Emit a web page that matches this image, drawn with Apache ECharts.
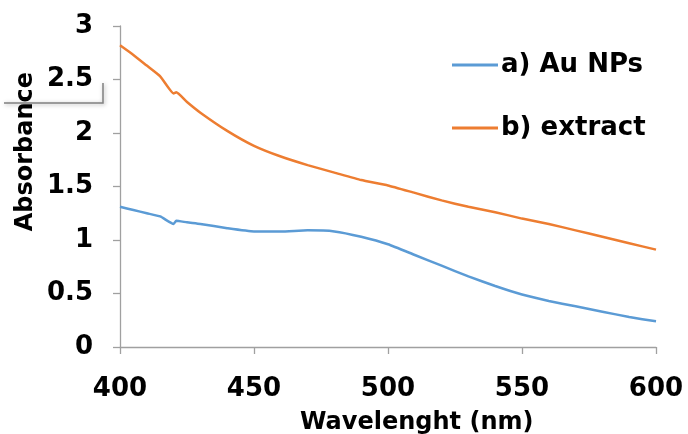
<!DOCTYPE html>
<html>
<head>
<meta charset="utf-8">
<script src="https://cdn.jsdelivr.net/npm/echarts@6/dist/echarts.min.js"></script>
<style>
  html, body { margin: 0; padding: 0; background: #fff; }
  #chart { width: 688px; height: 434px; }
</style>
</head>
<body>
<div id="chart"></div>
<script>
const wavelengths = [400, 405, 410, 415, 420, 421, 425, 430, 440, 450, 460, 470, 480, 490, 500,
  510, 520, 530, 540, 550, 560, 570, 580, 590, 600];
const auNPs = [1.31, 1.28, 1.25, 1.22, 1.15, 1.18, 1.165, 1.15, 1.11, 1.08, 1.08, 1.09, 1.08, 1.03, 0.96,
  0.86, 0.76, 0.66, 0.57, 0.49, 0.43, 0.38, 0.33, 0.28, 0.24];
const extract = [2.82, 2.73, 2.63, 2.53, 2.37, 2.38, 2.29, 2.19, 2.02, 1.88, 1.78, 1.70, 1.63, 1.56, 1.51,
  1.44, 1.37, 1.31, 1.26, 1.20, 1.15, 1.09, 1.03, 0.97, 0.91];
const seriesNames = ['a) Au NPs', 'b) extract'];

const font = 'DejaVu Sans';
const axisColor = '#a0a0a0';

const chart = echarts.init(document.getElementById('chart'), null, { renderer: 'canvas' });

const pairs = (ys) => wavelengths.map((w, i) => [w, ys[i]]);

chart.setOption({
  animation: false,
  grid: { left: 120, right: 32, top: 26, bottom: 87 },
  legend: {
    orient: 'vertical',
    left: 452,
    top: 52,
    padding: 0,
    icon: 'rect',
    itemWidth: 46,
    itemHeight: 3,
    itemGap: 37,
    data: seriesNames,
    textStyle: { fontFamily: font, fontWeight: 'bold', fontSize: 26, lineHeight: 25, color: '#000', padding: [0, 0, 0, -2] }
  },
  xAxis: {
    type: 'value',
    min: 400,
    max: 600,
    interval: 50,
    axisLine: { lineStyle: { color: axisColor, width: 1.3 } },
    axisTick: { show: true, length: 7, lineStyle: { color: axisColor, width: 1.3 } },
    splitLine: { show: false },
    axisLabel: { margin: 29, fontFamily: font, fontWeight: 'bold', fontSize: 26, color: '#000' }
  },
  yAxis: {
    type: 'value',
    min: 0,
    max: 3,
    interval: 0.5,
    axisLine: { show: true, lineStyle: { color: axisColor, width: 1.3 } },
    axisTick: { show: true, length: 7, lineStyle: { color: axisColor, width: 1.3 } },
    splitLine: { show: false },
    axisLabel: { margin: 27, fontFamily: font, fontWeight: 'bold', fontSize: 26, color: '#000' }
  },
  graphic: [
    {
      type: 'text', left: 14, top: 72,
      style: { text: 'Absorbance', fontFamily: font, fontWeight: 'bold', fontSize: 24, fill: '#000' },
      rotation: Math.PI / 2
    },
    {
      type: 'text', left: 300, top: 411,
      style: { text: 'Wavelenght (nm)', fontFamily: font, fontWeight: 'bold', fontSize: 24, fill: '#000' }
    },
    {
      type: 'polyline',
      shape: { points: [[4, 103], [103, 103], [103, 83]] },
      style: { stroke: '#808080', lineWidth: 1.5, fill: null, shadowBlur: 4, shadowColor: 'rgba(0,0,0,0.35)', shadowOffsetX: 1, shadowOffsetY: 1 }
    }
  ],
  series: [
    {
      name: seriesNames[0], type: 'line', data: pairs(auNPs),
      symbol: 'none', smooth: 0.15,
      lineStyle: { color: '#5B9BD5', width: 2.5 }, itemStyle: { color: '#5B9BD5' }
    },
    {
      name: seriesNames[1], type: 'line', data: pairs(extract),
      symbol: 'none', smooth: 0.15,
      lineStyle: { color: '#ED7D31', width: 2.5 }, itemStyle: { color: '#ED7D31' }
    }
  ]
});
</script>
</body>
</html>
